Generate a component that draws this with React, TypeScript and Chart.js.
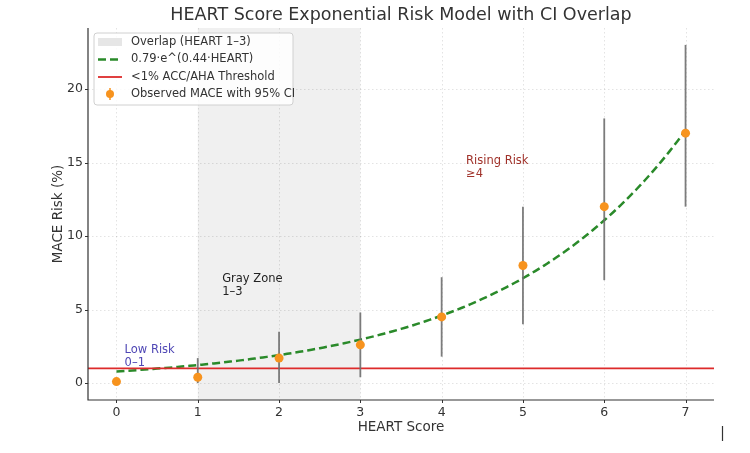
import React, { useEffect, useRef } from "react";
import { Chart, registerables } from "chart.js";

Chart.register(...registerables);

// Observed MACE rates per HEART score, with 95% confidence limits
const heartScores = [0, 1, 2, 3, 4, 5, 6, 7];
const observedMace = [0.1, 0.4, 1.7, 2.6, 4.5, 8, 12, 17];
const ciLower = [0, 0, 0, 0.4, 1.8, 4, 7, 12];
const ciUpper = [0.3, 1.7, 3.5, 4.8, 7.2, 12, 18, 23];

// Exponential model: risk = coef * e^(rate * HEART)
const modelCoef = 0.79;
const modelRate = 0.44;

const thresholdPct = 1;
const overlapRange = [1, 3];

const xTicks = [0, 1, 2, 3, 4, 5, 6, 7];
const yTicks = [0, 5, 10, 15, 20];
const xLimits = [-0.35, 7.35];
const yLimits = [-1.15, 24.15];

const zoneNotes = [
  { lines: ["Low Risk", "0–1"], x: 0.1, y: 2.25, color: "#4f47b5" },
  { lines: ["Gray Zone", "1–3"], x: 1.3, y: 7.05, color: "#222222" },
  { lines: ["Rising Risk", "≥4"], x: 4.3, y: 15.1, color: "#a0322a" },
];

const FONT = "'DejaVu Sans', 'Liberation Sans', sans-serif";
const INK = "#333333";
const GREEN = "#2a8a2a";
const RED = "#dd2b2b";
const ORANGE = "#f7931e";
const BAR = "rgba(110,110,110,0.9)";
const SPAN = "#f0f0f0";

function modelCurve() {
  const pts: { x: number; y: number }[] = [];
  const n = 140;
  for (let i = 0; i <= n; i++) {
    const x = (heartScores[heartScores.length - 1] * i) / n;
    pts.push({ x, y: modelCoef * Math.exp(modelRate * x) });
  }
  return pts;
}

const decorPlugin = {
  id: "decor",
  beforeDraw(chart: any) {
    const { ctx, chartArea: a, scales } = chart;
    const xs = scales.x;
    const ys = scales.y;
    ctx.save();
    // shaded overlap band
    const x0 = xs.getPixelForValue(overlapRange[0]);
    const x1 = xs.getPixelForValue(overlapRange[1]);
    ctx.fillStyle = SPAN;
    ctx.fillRect(x0, a.top, x1 - x0, a.bottom - a.top);
    // dotted grid
    ctx.strokeStyle = "rgba(0,0,0,0.14)";
    ctx.lineWidth = 0.8;
    ctx.setLineDash([1.5, 2.5]);
    xTicks.forEach((v) => {
      const px = Math.round(xs.getPixelForValue(v)) + 0.5;
      ctx.beginPath();
      ctx.moveTo(px, a.top);
      ctx.lineTo(px, a.bottom);
      ctx.stroke();
    });
    yTicks.forEach((v) => {
      const py = Math.round(ys.getPixelForValue(v)) + 0.5;
      ctx.beginPath();
      ctx.moveTo(a.left, py);
      ctx.lineTo(a.right, py);
      ctx.stroke();
    });
    ctx.restore();
  },
  beforeDatasetDraw(chart: any, args: any) {
    if (args.index !== 2) return;
    const { ctx, scales } = chart;
    ctx.save();
    ctx.strokeStyle = BAR;
    ctx.lineWidth = 1.8;
    heartScores.forEach((x, i) => {
      const px = scales.x.getPixelForValue(x);
      ctx.beginPath();
      ctx.moveTo(px, scales.y.getPixelForValue(ciLower[i]));
      ctx.lineTo(px, scales.y.getPixelForValue(ciUpper[i]));
      ctx.stroke();
    });
    ctx.restore();
  },
  afterDraw(chart: any) {
    const { ctx, chartArea: a, scales } = chart;
    const xs = scales.x;
    const ys = scales.y;
    ctx.save();

    // spines and tick marks
    ctx.strokeStyle = INK;
    ctx.lineWidth = 1.2;
    ctx.setLineDash([]);
    ctx.beginPath();
    ctx.moveTo(a.left, a.top);
    ctx.lineTo(a.left, a.bottom);
    ctx.lineTo(a.right, a.bottom);
    ctx.stroke();
    ctx.lineWidth = 1;
    xTicks.forEach((v) => {
      const px = Math.round(xs.getPixelForValue(v)) + 0.5;
      ctx.beginPath();
      ctx.moveTo(px, a.bottom);
      ctx.lineTo(px, a.bottom + 3);
      ctx.stroke();
    });
    yTicks.forEach((v) => {
      const py = Math.round(ys.getPixelForValue(v)) + 0.5;
      ctx.beginPath();
      ctx.moveTo(a.left - 3, py);
      ctx.lineTo(a.left, py);
      ctx.stroke();
    });

    // zone annotations
    ctx.textAlign = "left";
    ctx.textBaseline = "middle";
    ctx.font = `11.5px ${FONT}`;
    zoneNotes.forEach((n) => {
      const px = xs.getPixelForValue(n.x);
      const py = ys.getPixelForValue(n.y);
      ctx.fillStyle = n.color;
      n.lines.forEach((t, k) => ctx.fillText(t, px, py + k * 13));
    });

    // title and axis labels
    ctx.fillStyle = INK;
    ctx.textAlign = "center";
    ctx.font = `17.5px ${FONT}`;
    ctx.fillText("HEART Score Exponential Risk Model with CI Overlap", (a.left + a.right) / 2, 15);
    ctx.font = `13.5px ${FONT}`;
    ctx.fillText("HEART Score", (a.left + a.right) / 2, 427);
    ctx.save();
    ctx.translate(58, (a.top + a.bottom) / 2);
    ctx.rotate(-Math.PI / 2);
    ctx.fillText("MACE Risk (%)", 0, 0);
    ctx.restore();

    // legend
    const lx = 94, ly = 33, lw = 199, lh = 72;
    ctx.beginPath();
    const r = 3;
    ctx.moveTo(lx + r, ly);
    ctx.arcTo(lx + lw, ly, lx + lw, ly + lh, r);
    ctx.arcTo(lx + lw, ly + lh, lx, ly + lh, r);
    ctx.arcTo(lx, ly + lh, lx, ly, r);
    ctx.arcTo(lx, ly, lx + lw, ly, r);
    ctx.closePath();
    ctx.fillStyle = "rgba(255,255,255,0.85)";
    ctx.fill();
    ctx.strokeStyle = "#d0d0d0";
    ctx.lineWidth = 1;
    ctx.stroke();

    const hx0 = 98, hx1 = 122, tx = 131;
    const rows = [42, 59.5, 77, 94];
    // overlap patch
    ctx.fillStyle = "#e6e6e6";
    ctx.fillRect(hx0, rows[0] - 4, hx1 - hx0, 8);
    // model curve
    ctx.strokeStyle = GREEN;
    ctx.lineWidth = 2.5;
    ctx.setLineDash([8, 4]);
    ctx.beginPath();
    ctx.moveTo(hx0, rows[1]);
    ctx.lineTo(hx1, rows[1]);
    ctx.stroke();
    ctx.setLineDash([]);
    // threshold
    ctx.strokeStyle = RED;
    ctx.lineWidth = 1.8;
    ctx.beginPath();
    ctx.moveTo(hx0, rows[2]);
    ctx.lineTo(hx1, rows[2]);
    ctx.stroke();
    // observed marker with error bar
    const mx = (hx0 + hx1) / 2;
    ctx.strokeStyle = ORANGE;
    ctx.lineWidth = 1.5;
    ctx.beginPath();
    ctx.moveTo(mx, rows[3] - 6);
    ctx.lineTo(mx, rows[3] + 6);
    ctx.stroke();
    ctx.fillStyle = ORANGE;
    ctx.beginPath();
    ctx.arc(mx, rows[3], 4, 0, Math.PI * 2);
    ctx.fill();

    ctx.fillStyle = INK;
    ctx.textAlign = "left";
    ctx.font = `11.5px ${FONT}`;
    const labels = [
      "Overlap (HEART 1–3)",
      "0.79·e^(0.44·HEART)",
      "<1% ACC/AHA Threshold",
      "Observed MACE with 95% CI",
    ];
    labels.forEach((t, k) => ctx.fillText(t, tx, rows[k]));

    // small mark at the lower right corner
    ctx.strokeStyle = INK;
    ctx.lineWidth = 1.2;
    ctx.beginPath();
    ctx.moveTo(722.5, 426);
    ctx.lineTo(722.5, 441);
    ctx.stroke();

    ctx.restore();
  },
};

export default function App() {
  const canvasRef = useRef<HTMLCanvasElement | null>(null);

  useEffect(() => {
    const canvas = canvasRef.current;
    if (!canvas) return;
    const chart = new Chart(canvas, {
      type: "scatter",
      data: {
        datasets: [
          {
            label: "0.79·e^(0.44·HEART)",
            data: modelCurve(),
            showLine: true,
            borderColor: GREEN,
            borderWidth: 2.5,
            borderDash: [8, 4],
            pointRadius: 0,
            order: 3,
          } as any,
          {
            label: "<1% ACC/AHA Threshold",
            data: [
              { x: xLimits[0], y: thresholdPct },
              { x: xLimits[1], y: thresholdPct },
            ],
            showLine: true,
            borderColor: RED,
            borderWidth: 1.8,
            pointRadius: 0,
            order: 2,
          },
          {
            label: "Observed MACE with 95% CI",
            data: heartScores.map((x, i) => ({ x, y: observedMace[i] })),
            backgroundColor: ORANGE,
            borderWidth: 0,
            pointRadius: 4.5,
            order: 1,
          },
        ],
      },
      options: {
        responsive: false,
        animation: false,
        layout: { padding: { top: 28, right: 36, bottom: 0, left: 0 } },
        plugins: {
          legend: { display: false },
          title: { display: false },
          tooltip: { enabled: false },
        },
        scales: {
          x: {
            type: "linear",
            min: xLimits[0],
            max: xLimits[1],
            grid: { display: false, drawTicks: false },
            border: { display: false },
            ticks: {
              padding: 5,
              color: INK,
              font: { family: FONT, size: 12.5 },
            },
            afterBuildTicks: (s: any) => {
              s.ticks = xTicks.map((v) => ({ value: v }));
            },
            afterFit: (s: any) => {
              s.height = 53;
            },
          },
          y: {
            type: "linear",
            min: yLimits[0],
            max: yLimits[1],
            grid: { display: false, drawTicks: false },
            border: { display: false },
            ticks: {
              padding: 5,
              color: INK,
              font: { family: FONT, size: 12.5 },
            },
            afterBuildTicks: (s: any) => {
              s.ticks = yTicks.map((v) => ({ value: v }));
            },
            afterFit: (s: any) => {
              s.width = 88;
            },
          },
        },
      },
      plugins: [decorPlugin],
    });
    return () => chart.destroy();
  }, []);

  return (
    <div style={{ position: "absolute", left: 0, top: 0, width: 750, height: 453, background: "#fff" }}>
      <canvas ref={canvasRef} width={750} height={453} style={{ width: 750, height: 453 }} />
    </div>
  );
}
